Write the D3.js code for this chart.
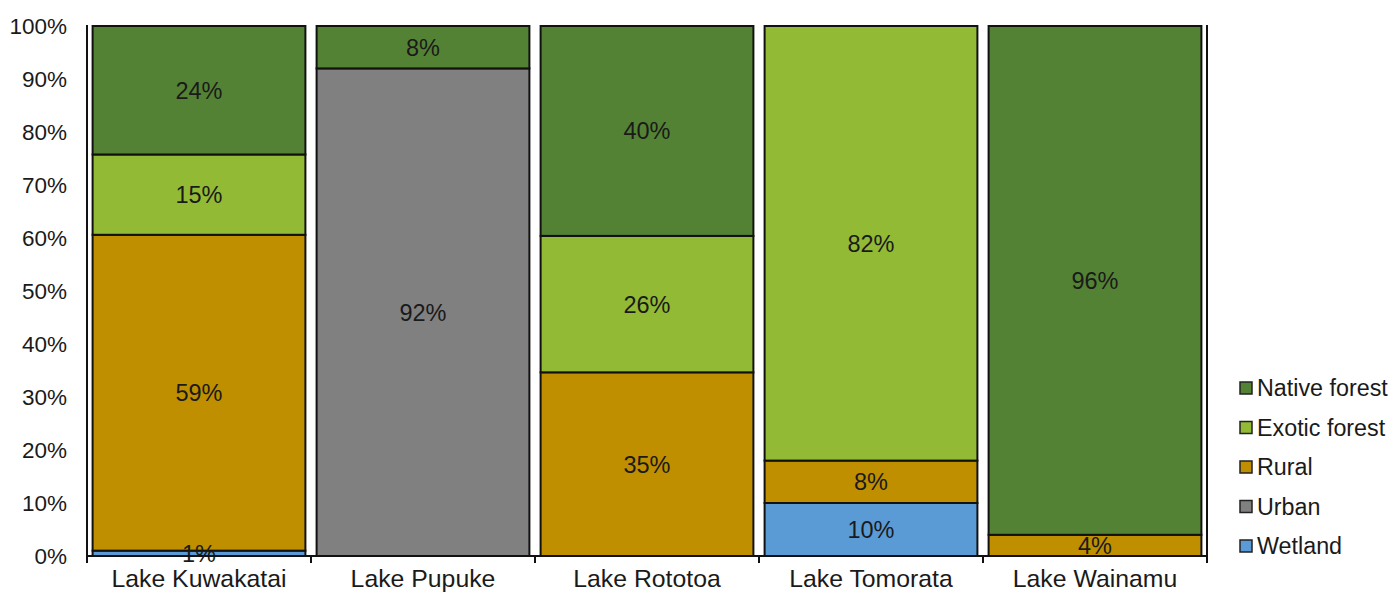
<!DOCTYPE html>
<html>
<head>
<meta charset="utf-8">
<script src="https://cdn.jsdelivr.net/npm/d3@7"></script>
<style>
  html, body { margin: 0; padding: 0; background: #fff; }
  svg { display: block; font-family: "Liberation Sans", Arial, sans-serif; }
</style>
</head>
<body>
<svg id="chart" width="1395" height="597"></svg>
<script>
// Catchment land cover share per lake (percent)
const lakes = ["Lake Kuwakatai", "Lake Pupuke", "Lake Rototoa", "Lake Tomorata", "Lake Wainamu"];
const wetland = [1, 0, 0, 10, 0];
const urban = [0, 92, 0, 0, 0];
const rural = [59, 0, 35, 8, 4];
const exoticForest = [15, 0, 26, 82, 0];
const nativeForest = [24, 8, 40, 0, 96];
const yTicks = [0, 0.1, 0.2, 0.3, 0.4, 0.5, 0.6, 0.7, 0.8, 0.9, 1];

const seriesNames = ["Wetland", "Urban", "Rural", "Exotic forest", "Native forest"];
const seriesValues = [wetland, urban, rural, exoticForest, nativeForest];
const colors = ["#5b9bd5", "#808080", "#bf8f00", "#92ba35", "#548235"];

const rows = lakes.map((lake, i) => {
  const r = { lake };
  seriesNames.forEach((k, j) => { r[k] = seriesValues[j][i]; });
  return r;
});

const stacked = d3.stack().keys(seriesNames).offset(d3.stackOffsetExpand)(rows);

const svg = d3.select("#chart");

const x = d3.scaleBand().domain(lakes).range([87, 1207]).paddingInner(0.05).paddingOuter(0.025);
const y = d3.scaleLinear().domain([0, 1]).range([556, 26]);

// y axis labels
const yAxis = svg.append("g")
  .attr("transform", "translate(87,0)")
  .call(d3.axisLeft(y).tickValues(yTicks).tickFormat(d3.format(".0%")).tickSize(0).tickPadding(20));
yAxis.select(".domain").remove();
yAxis.selectAll("text").attr("font-size", 22.5).attr("fill", "#1a1a1a")
  .attr("font-family", "Liberation Sans, Arial, sans-serif");

// bars
const layer = svg.append("g").selectAll("g").data(stacked).join("g")
  .attr("fill", (d, i) => colors[i]);

layer.selectAll("rect").data(d => d.filter(s => s[1] - s[0] > 0)).join("rect")
  .attr("x", d => x(d.data.lake))
  .attr("y", d => y(d[1]))
  .attr("width", x.bandwidth())
  .attr("height", d => y(d[0]) - y(d[1]))
  .attr("stroke", "#111")
  .attr("stroke-width", 2);

// value labels
const labels = svg.append("g");
stacked.forEach((s, i) => {
  s.forEach(d => {
    const v = seriesValues[i][lakes.indexOf(d.data.lake)];
    if (!v) return;
    labels.append("text")
      .attr("x", x(d.data.lake) + x.bandwidth() / 2)
      .attr("y", y((d[0] + d[1]) / 2))
      .attr("dy", "0.36em")
      .attr("text-anchor", "middle")
      .attr("font-size", 23.5)
      .attr("fill", "#1a1a1a")
      .text(v + "%");
  });
});

// x axis with ticks between categories
const xAxisG = svg.append("g");
xAxisG.append("line").attr("x1", 87).attr("x2", 1207).attr("y1", 556).attr("y2", 556)
  .attr("stroke", "#111").attr("stroke-width", 2);
const bounds = lakes.map(l => x(l) - x.step() * x.paddingInner() / 2);
bounds[0] = x.range()[0];
bounds.push(x.range()[1]);
xAxisG.selectAll("line.tick").data(bounds).join("line").attr("class", "tick")
  .attr("x1", d => d).attr("x2", d => d).attr("y1", 556).attr("y2", 563)
  .attr("stroke", "#111").attr("stroke-width", 2);
xAxisG.selectAll("text").data(lakes).join("text")
  .attr("x", d => x(d) + x.bandwidth() / 2)
  .attr("y", 587)
  .attr("text-anchor", "middle")
  .attr("font-size", 24.8)
  .attr("fill", "#1a1a1a")
  .text(d => d);

// left and right frame lines
svg.append("line").attr("x1", 87).attr("x2", 87).attr("y1", 25).attr("y2", 563)
  .attr("stroke", "#111").attr("stroke-width", 2);
svg.append("line").attr("x1", 1207).attr("x2", 1207).attr("y1", 25).attr("y2", 563)
  .attr("stroke", "#111").attr("stroke-width", 2);

// legend, top entry first
const legend = svg.append("g");
const legendOrder = seriesNames.slice().reverse();
legendOrder.forEach((name, i) => {
  const cy = 388 + i * 39.5;
  const ci = seriesNames.indexOf(name);
  legend.append("rect")
    .attr("x", 1240).attr("y", cy - 6).attr("width", 12).attr("height", 12)
    .attr("fill", colors[ci]).attr("stroke", "#222").attr("stroke-width", 1.5);
  legend.append("text")
    .attr("x", 1257).attr("y", cy).attr("dy", "0.36em")
    .attr("font-size", 23.3).attr("fill", "#1a1a1a")
    .text(name);
});
</script>
</body>
</html>
